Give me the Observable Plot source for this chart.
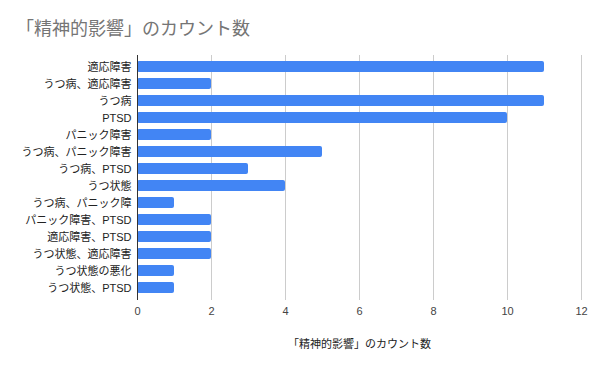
<!DOCTYPE html>
<html><head><meta charset="utf-8">
<script src="https://cdn.jsdelivr.net/npm/d3@7"></script>
<script src="https://cdn.jsdelivr.net/npm/@observablehq/plot@0.6"></script>
<style>
body{margin:0;background:#fff;font-family:"Liberation Sans","Noto Sans CJK JP",sans-serif;}
#title{height:48px;box-sizing:border-box;padding:19px 0 0 16px;font-size:18px;color:#757575;line-height:20px;}
svg{display:block}
</style></head><body>
<div id="title">「精神的影響」のカウント数</div>
<div id="chart"></div>
<script>
const categories = ["適応障害","うつ病、適応障害","うつ病","PTSD","パニック障害","うつ病、パニック障害","うつ病、PTSD","うつ状態","うつ病、パニック障","パニック障害、PTSD","適応障害、PTSD","うつ状態、適応障害","うつ状態の悪化","うつ状態、PTSD"];
const counts = [11,2,11,10,2,5,3,4,1,2,2,2,1,1];
const xTicks = [0,2,4,6,8,10,12];
const axisTitle = "「精神的影響」のカウント数";
const data = categories.map((c,i)=>({category:c,count:counts[i]}));
const chart = Plot.plot({
  width:600, height:323,
  marginTop:7, marginBottom:71, marginLeft:137, marginRight:19,
  style:{fontFamily:'"Liberation Sans","Noto Sans CJK JP",sans-serif', fontSize:"11px", color:"#222", background:"#fff"},
  x:{domain:[0,12], ticks:xTicks, label:null},
  y:{domain:categories, label:null, padding:0.33},
  marks:[
    Plot.ruleX(xTicks.filter(d=>d>0), {stroke:"#cccccc", strokeWidth:1}),
    Plot.barX(data, {y:"category", x:"count", fill:"#4285f4", rx:2}),
    Plot.ruleX([0], {stroke:"#333", strokeWidth:1}),
    Plot.axisY({tickSize:0, tickPadding:6, fill:"#222"}),
    Plot.axisX({ticks:xTicks, tickSize:0, tickPadding:7, fill:"#444"}),
    Plot.text([axisTitle], {frameAnchor:"bottom", dy:47, fontSize:11, fill:"#222"})
  ]
});
document.getElementById("chart").appendChild(chart);
</script>
</body></html>
